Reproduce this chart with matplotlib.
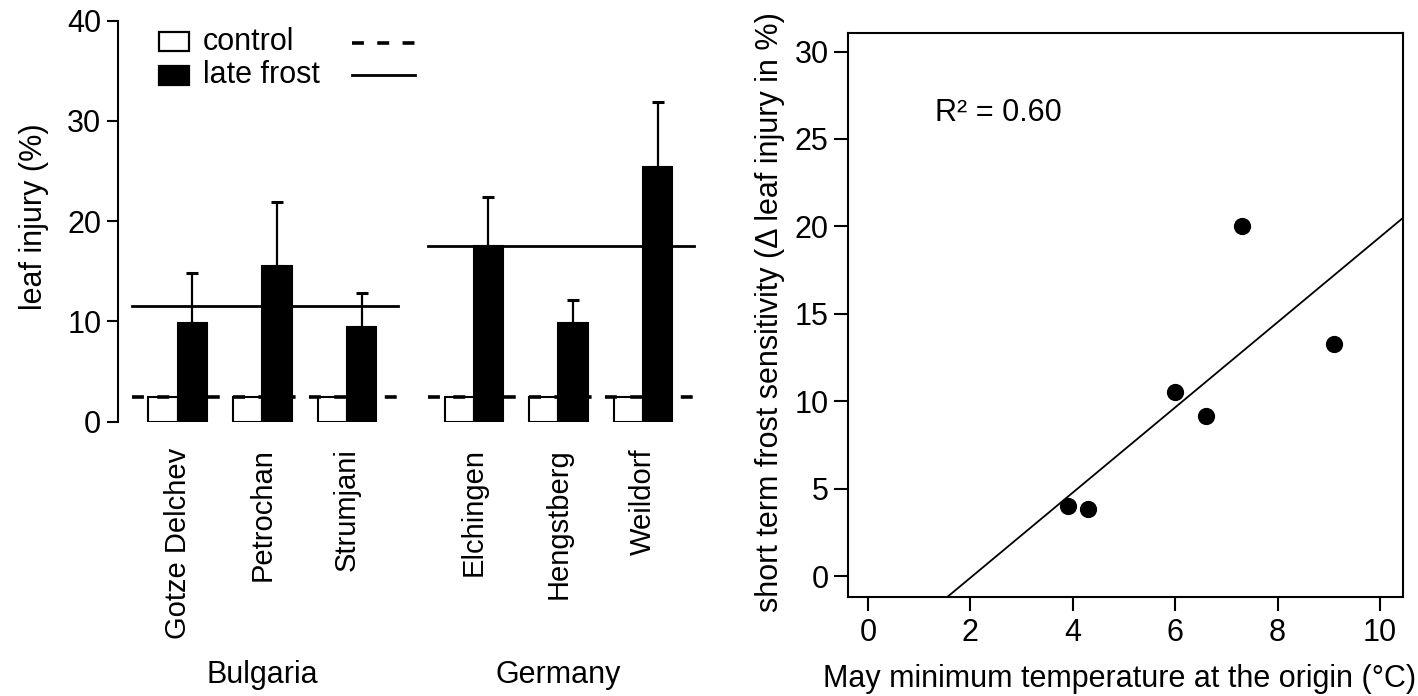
import numpy as np
import matplotlib
matplotlib.use("Agg")
import matplotlib.pyplot as plt
from matplotlib.patches import Rectangle
from matplotlib.lines import Line2D

plt.rcParams['font.family'] = ['Liberation Sans', 'DejaVu Sans']

# ---- data ----
sites = ["Gotze Delchev", "Petrochan", "Strumjani", "Elchingen", "Hengstberg", "Weildorf"]
site_country = ["Bulgaria", "Bulgaria", "Bulgaria", "Germany", "Germany", "Germany"]
countries = ["Bulgaria", "Germany"]
control = [2.5, 2.5, 2.5, 2.5, 2.5, 2.5]
late_frost = [9.8, 15.5, 9.4, 17.5, 9.8, 25.4]
late_frost_err = [5.0, 6.4, 3.4, 4.9, 2.3, 6.5]

may_min_temp = [3.9, 4.3, 6.0, 6.6, 7.3, 9.1]
frost_sensitivity = [4.0, 3.85, 10.5, 9.15, 20.0, 13.3]
r2_label = "R\u00b2 = 0.60"

W, H = 1418, 696
FS = 22
FS_SITE = 21

def fx(px):
    return px / W

def fy(py):
    return 1 - py / H

fig = plt.figure(figsize=(W / 100, H / 100), dpi=100)

# ---- left panel ----
spacing = 84.6
c0 = 177.7
axL_left, axL_right = 118, 712
y0px, y40px = 421.7, 20.7
axL = fig.add_axes([fx(axL_left), fy(y0px), (axL_right - axL_left) / W, (y0px - y40px) / H])

# positions: extra half gap between countries
pos = []
p = 0.0
for i, c in enumerate(site_country):
    if i > 0:
        p += 1.0 + (0.5 if c != site_country[i - 1] else 0.0)
    pos.append(p)
pos = np.array(pos)
bw = 0.346
DASH = (3.3, 3.7)

axL.bar(pos - bw / 2, control, width=bw, color="white", edgecolor="black", linewidth=1.5, zorder=2)
axL.bar(pos + bw / 2, late_frost, width=bw, color="black", edgecolor="black", linewidth=1.5, zorder=2)
axL.errorbar(pos + bw / 2, late_frost, yerr=[np.zeros(len(late_frost)), late_frost_err],
             fmt="none", ecolor="black", elinewidth=1.6, capsize=4, capthick=2.2, zorder=3)

for c in countries:
    idx = [i for i, s in enumerate(site_country) if s == c]
    x_lo = pos[idx[0]] - 0.54
    x_hi = pos[idx[-1]] + 0.606
    m_lf = np.mean([late_frost[i] for i in idx])
    m_c = np.mean([control[i] for i in idx])
    axL.plot([x_lo, x_hi], [m_lf, m_lf], color="black", lw=2, zorder=4)
    axL.plot([x_lo, x_hi], [m_c, m_c], color="black", lw=2.6, dashes=DASH, zorder=4)

axL.set_xlim((axL_left - c0) / spacing, (axL_right - c0) / spacing)
axL.set_ylim(0, 40)
axL.set_yticks([0, 10, 20, 30, 40])
axL.set_xticks(pos)
axL.set_xticklabels(sites, rotation=90, va="top", ha="center", fontsize=FS_SITE)
for sp in ["top", "right", "bottom"]:
    axL.spines[sp].set_visible(False)
axL.spines["left"].set_linewidth(1.5)
axL.spines["left"].set_bounds(0, 40)
axL.tick_params(axis="y", length=8, width=1.5, labelsize=FS, pad=4)
axL.tick_params(axis="x", length=0, pad=19)

fig.text(fx(34), fy(217), "leaf injury (%)", rotation=90, ha="center", va="center", fontsize=FS)
for c in countries:
    idx = [i for i, s in enumerate(site_country) if s == c]
    xc = np.mean(pos[idx])
    xpx = c0 + spacing * xc
    fig.text(fx(xpx), fy(675), c, ha="center", va="center", fontsize=FS)

# legend (manual)
fig.patches.append(Rectangle((fx(159), fy(51)), 30 / W, 19 / H, transform=fig.transFigure,
                             facecolor="white", edgecolor="black", linewidth=1.6))
fig.patches.append(Rectangle((fx(159), fy(85)), 30 / W, 19 / H, transform=fig.transFigure,
                             facecolor="black", edgecolor="black", linewidth=1.6))
fig.text(fx(203), fy(42), "control", ha="left", va="center", fontsize=FS)
fig.text(fx(203), fy(75), "late frost", ha="left", va="center", fontsize=FS)
fig.lines.append(Line2D([fx(352), fx(415)], [fy(43), fy(43)], transform=fig.transFigure,
                        color="black", lw=2.6, dashes=DASH))
fig.lines.append(Line2D([fx(352), fx(415)], [fy(75), fy(75)], transform=fig.transFigure,
                        color="black", lw=2))

# ---- right panel ----
bx0, bx1, by0, by1 = 848, 1403, 33, 597
axR = fig.add_axes([fx(bx0), fy(by1), (bx1 - bx0) / W, (by1 - by0) / H])
x0px, xsc = 868, 51.2
yz, ysc = 576, 17.48
axR.set_xlim((bx0 - x0px) / xsc, (bx1 - x0px) / xsc)
axR.set_ylim((yz - by1) / ysc, (yz - by0) / ysc)

axR.scatter(may_min_temp, frost_sensitivity, s=130, color="black", zorder=3)
slope, icpt = np.polyfit(may_min_temp, frost_sensitivity, 1)
xx = np.array([-1.0, 12.0])
axR.plot(xx, slope * xx + icpt, color="black", lw=1.3, zorder=2)

axR.set_xticks([0, 2, 4, 6, 8, 10])
axR.set_yticks([0, 5, 10, 15, 20, 25, 30])
for sp in axR.spines.values():
    sp.set_linewidth(1.5)
axR.tick_params(axis="both", length=10, width=1.5, labelsize=FS)
axR.tick_params(axis="x", pad=5)
axR.tick_params(axis="y", pad=4)
axR.text(1.3, 26.5, r2_label, ha="left", va="center", fontsize=FS)

fig.text(fx(770), fy(312), "short term frost sensitivity (\u0394 leaf injury in %)", rotation=90,
         ha="center", va="center", fontsize=FS)
fig.text(fx(1120), fy(679), "May minimum temperature at the origin (\u00b0C)", ha="center",
         va="center", fontsize=FS)

fig.savefig("out.png", dpi=100)
